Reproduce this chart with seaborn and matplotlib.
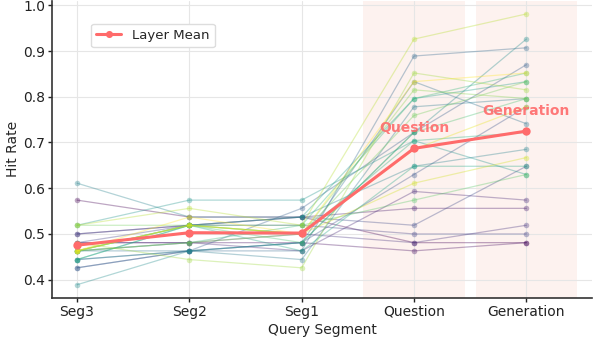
import numpy as np
import pandas as pd
import matplotlib
matplotlib.use("Agg")
import matplotlib.pyplot as plt
import seaborn as sns

segments = ["Seg3", "Seg2", "Seg1", "Question", "Generation"]

# Per-layer hit rates (54 probes per segment), one list per segment
seg3 = [0.574, 0.481, 0.500, 0.481, 0.463, 0.481, 0.500, 0.426, 0.426, 0.444,
        0.463, 0.444, 0.611, 0.389, 0.519, 0.444, 0.463, 0.444, 0.463, 0.463,
        0.463, 0.519, 0.463, 0.481, 0.519, 0.463, 0.463, 0.463]
seg2 = [0.537, 0.481, 0.519, 0.481, 0.481, 0.519, 0.519, 0.463, 0.463, 0.463,
        0.463, 0.463, 0.537, 0.463, 0.574, 0.519, 0.519, 0.519, 0.481, 0.519,
        0.519, 0.519, 0.481, 0.444, 0.556, 0.519, 0.519, 0.537]
seg1 = [0.537, 0.481, 0.537, 0.463, 0.500, 0.519, 0.537, 0.481, 0.556, 0.463,
        0.481, 0.444, 0.537, 0.481, 0.574, 0.537, 0.463, 0.500, 0.519, 0.481,
        0.519, 0.500, 0.500, 0.426, 0.519, 0.500, 0.500, 0.500]
question = [0.481, 0.463, 0.556, 0.593, 0.481, 0.500, 0.519, 0.630, 0.722, 0.889,
            0.833, 0.778, 0.648, 0.722, 0.704, 0.796, 0.648, 0.704, 0.796, 0.722,
            0.574, 0.759, 0.815, 0.852, 0.926, 0.611, 0.685, 0.833]
generation = [0.481, 0.481, 0.556, 0.574, 0.519, 0.500, 0.648, 0.778, 0.870, 0.907,
              0.741, 0.796, 0.685, 0.926, 0.630, 0.833, 0.648, 0.722, 0.852, 0.796,
              0.630, 0.833, 0.796, 0.815, 0.981, 0.667, 0.778, 0.852]

n_layers = len(seg3)
hits = np.array([seg3, seg2, seg1, question, generation])  # (segment, layer)

long = pd.DataFrame({
    "pos": np.repeat(np.arange(len(segments)), n_layers),
    "layer": np.tile(np.arange(n_layers), len(segments)),
    "hit": hits.ravel(),
})
mean_df = pd.DataFrame({"pos": np.arange(len(segments)), "hit": hits.mean(axis=1)})

sns.set_style("whitegrid", {"axes.edgecolor": "#333333", "grid.color": "#e6e6e6",
                            "xtick.bottom": True, "ytick.left": True})
plt.rcParams["font.family"] = ["DejaVu Sans"]

fig, ax = plt.subplots(figsize=(5.98, 3.43), dpi=100)
fig.subplots_adjust(left=52 / 598, right=592 / 598, bottom=1 - 298 / 343, top=0.998)

accent = "#ff6b6b"
for i in (3, 4):
    ax.axvspan(i - 0.45, i + 0.45, color="#f4b8a8", alpha=0.18, lw=0, zorder=0)

sns.lineplot(data=long, x="pos", y="hit", hue="layer", palette="viridis",
             marker="o", markersize=4, markeredgewidth=0, linewidth=0.9,
             alpha=0.35, legend=False, ax=ax, zorder=2)
sns.lineplot(data=mean_df, x="pos", y="hit", color=accent, marker="o",
             markersize=6, markeredgewidth=0, linewidth=2.2, label="Layer Mean",
             ax=ax, zorder=5)

for i in (3, 4):
    ax.text(i, mean_df["hit"][i] + 0.045, segments[i], ha="center", va="center",
            fontsize=10, fontweight="bold", color=accent, alpha=0.9, zorder=6)

ax.set_xticks(range(len(segments)))
ax.set_xticklabels(segments)
ax.set_xlim(-0.223, 4.585)
ax.set_ylim(0.36, 1.01)
ax.set_yticks(np.arange(0.4, 1.01, 0.1))
ax.set_xlabel("Query Segment", fontsize=10, labelpad=3)
ax.set_ylabel("Hit Rate", fontsize=10, labelpad=2)
ax.tick_params(labelsize=10, length=3, width=1, pad=2, colors="#222222")
for side in ("top", "right"):
    ax.spines[side].set_visible(False)
for side in ("left", "bottom"):
    ax.spines[side].set_linewidth(1.2)

ax.legend(loc="upper left", bbox_to_anchor=(0.06, 0.945), fontsize=9.5,
          markerscale=0.85, handlelength=1.9, frameon=True,
          edgecolor="#dddddd", framealpha=1)

fig.savefig("out.png", dpi=100)
